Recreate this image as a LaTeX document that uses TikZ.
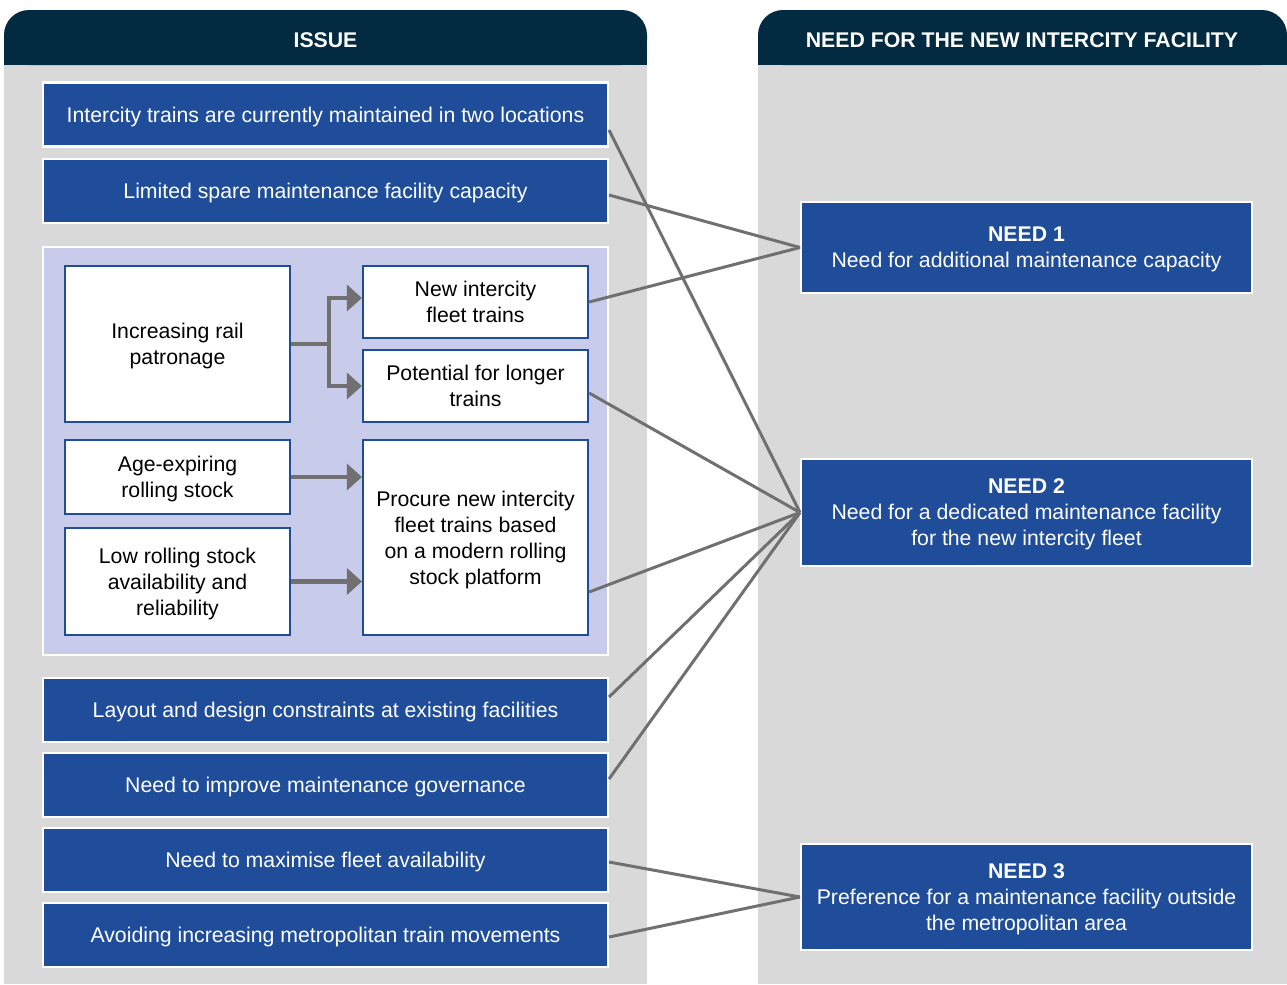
\documentclass[tikz,border=0pt]{standalone}
\usepackage{fontspec}
\setmainfont{Liberation Sans}
\usepackage{tikz}
\usetikzlibrary{arrows.meta}
\definecolor{hdrNavy}{RGB}{2,42,64}
\definecolor{panelGrey}{RGB}{217,217,217}
\definecolor{issueBlue}{RGB}{31,77,154}
\definecolor{groupLav}{RGB}{200,203,233}
\definecolor{linkGrey}{RGB}{112,112,112}
\tikzset{
  txt/.style={font=\fontsize{12.1}{14.8}\selectfont,align=center,inner sep=0pt,text depth=0pt},
  issuebox/.style={txt,fill=issueBlue,draw=white,line width=1.2pt,text=white,minimum width=11.3cm,minimum height=1.28cm},
  needbox/.style={txt,fill=issueBlue,draw=white,line width=1.2pt,text=white,minimum width=9.02cm},
  causebox/.style={txt,fill=white,draw=issueBlue,line width=1.3pt,text=black,minimum width=4.5cm},
  hdrtext/.style={font=\fontsize{12.1}{14.8}\selectfont\bfseries,text=white},
  flow/.style={linkGrey,line width=2.3pt},
  flowarr/.style={flow,-{Triangle[length=0.3cm,width=0.52cm]}},
  link/.style={linkGrey,line width=1.7pt}
}

\begin{document}
\begin{tikzpicture}[x=0.02cm,y=-0.02cm]
\fill[white] (0,0) rectangle (1287,984);
% panels and headers
\fill[panelGrey] (4,60) rectangle (647,984);
\fill[panelGrey] (758,60) rectangle (1287,984);
\fill[hdrNavy,rounded corners=0.5cm] (4,10) rectangle (647,65);\fill[hdrNavy] (4,40) rectangle (647,65);
\fill[hdrNavy,rounded corners=0.5cm] (758,10) rectangle (1287,65);\fill[hdrNavy] (758,40) rectangle (1287,65);
\node[hdrtext] (issuehd) at (325.5,40) {ISSUE};
\node[hdrtext] (needhd) at (1022,40) {NEED FOR THE NEW INTERCITY FACILITY};
% issues
\node[issuebox] (iss1) at (325.5,114.5) {Intercity trains are currently maintained in two locations};
\node[issuebox] (iss2) at (325.5,191) {Limited spare maintenance facility capacity};
\node[fill=groupLav,draw=white,line width=1.2pt,minimum width=11.3cm,minimum height=8.16cm] (grp) at (325.5,451) {};
\node[causebox,minimum height=3.12cm] (incr) at (177.5,344) {Increasing rail\\patronage};
\node[causebox,minimum height=1.44cm] (newic) at (475.5,302) {New intercity\\fleet trains};
\node[causebox,minimum height=1.44cm] (longer) at (475.5,386) {Potential for longer\\trains};
\node[causebox,minimum height=1.48cm] (age) at (177.5,477) {Age-expiring\\rolling stock};
\node[causebox,minimum height=2.14cm] (low) at (177.5,581.5) {Low rolling stock\\availability and\\reliability};
\node[causebox,minimum height=3.9cm] (procure) at (475.5,537.5) {Procure new intercity\\fleet trains based\\on a modern rolling\\stock platform};
\node[issuebox] (layout) at (325.5,710) {Layout and design constraints at existing facilities};
\node[issuebox] (gov) at (325.5,785) {Need to improve maintenance governance};
\node[issuebox] (maxav) at (325.5,860) {Need to maximise fleet availability};
\node[issuebox] (avoid) at (325.5,935) {Avoiding increasing metropolitan train movements};
% needs
\node[needbox,minimum height=1.82cm] (need1) at (1026.5,247.5) {\textbf{NEED 1}\\Need for additional maintenance capacity};
\node[needbox,minimum height=2.14cm] (need2) at (1026.5,512.5) {\textbf{NEED 2}\\Need for a dedicated maintenance facility\\for the new intercity fleet};
\node[needbox,minimum height=2.12cm] (need3) at (1026.5,897) {\textbf{NEED 3}\\Preference for a maintenance facility outside\\the metropolitan area};
% arrows inside the group
\coordinate (fork) at (329,344);
\draw[flow] (incr.east) -- (fork);
\draw[flowarr] (fork) |- ([yshift=0.08cm]newic.west);
\draw[flowarr] (fork) |- (longer.west);
\draw[flowarr] (age.east) -- (age.east -| procure.west);
\draw[flowarr] (low.east) -- (low.east -| procure.west);
% links to the needs
\draw[link] ([yshift=-0.31cm]iss1.east) -- (need2.west);
\draw[link] ([yshift=-0.08cm]iss2.east) -- (need1.west);
\draw[link] (newic.east) -- (need1.west);
\draw[link] ([yshift=-0.14cm]longer.east) -- (need2.west);
\draw[link] ([yshift=-1.09cm]procure.east) -- (need2.west);
\draw[link] ([yshift=0.26cm]layout.east) -- (need2.west);
\draw[link] ([yshift=0.12cm]gov.east) -- (need2.west);
\draw[link] ([yshift=-0.04cm]maxav.east) -- (need3.west);
\draw[link] ([yshift=-0.04cm]avoid.east) -- (need3.west);
\end{tikzpicture}
\end{document}
